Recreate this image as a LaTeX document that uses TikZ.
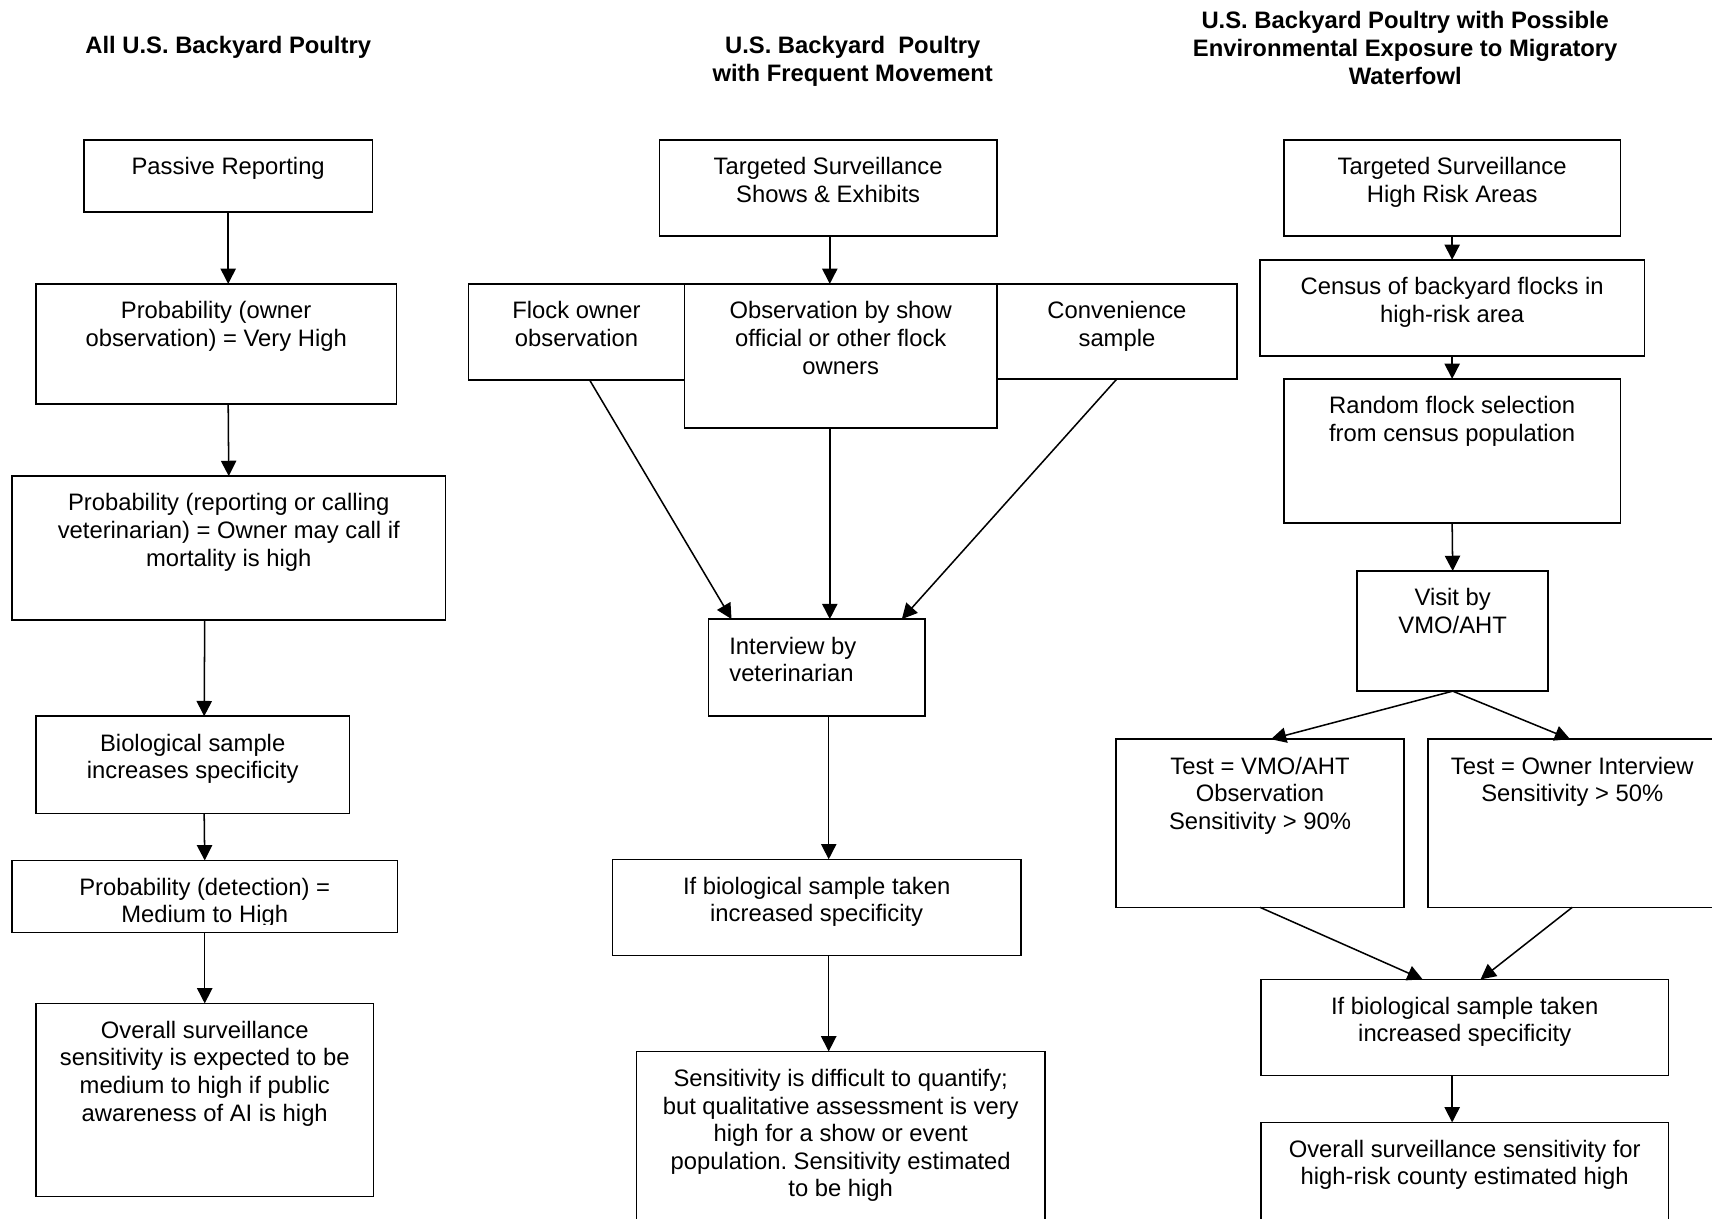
\documentclass[tikz,border=0pt]{standalone}
\usepackage{fontspec}
\setmainfont{Liberation Sans}
\usetikzlibrary{arrows.meta,calc}
\frenchspacing
\newcommand\cbox[3]{\parbox[t][#2][t]{#1}{\centering\rule{0pt}{32pt}#3}}
\newcommand\lbox[4]{\parbox[t][#2][t]{#1}{\raggedright\leftskip=#3\rule{0pt}{32pt}#4}}
\newcommand\tbox[2]{\parbox[t]{#1}{\centering\bfseries #2}}
\begin{document}
\begin{tikzpicture}[x=1pt,y=-1pt,
  box/.style={draw,line width=1.4pt,inner sep=0pt,outer sep=0pt,anchor=north west,font=\fontsize{21.8}{25.3}\selectfont},
  ttl/.style={inner sep=0pt,anchor=base,font=\fontsize{21.8}{25.5}\selectfont},
  arr/.style={line width=1.4pt,-{Triangle[length=14pt,width=14pt]}}]
\useasboundingbox (0,0) rectangle (1568,1116);
\clip (0,0) rectangle (1568,1116);
\fill[white] (0,0) rectangle (1568,1116);

% titles
\node[ttl] (t1) at (209,49) {\tbox{400pt}{All U.S. Backyard Poultry}};
\node[ttl] (t2) at (781,49) {\tbox{400pt}{U.S. Backyard~ Poultry\\with Frequent Movement}};
\node[ttl] (t3) at (1287,26) {\tbox{500pt}{U.S. Backyard Poultry with Possible\\Environmental Exposure to Migratory\\Waterfowl}};

% left column
\node[box] (b1) at (77,128) {\cbox{264pt}{66pt}{Passive Reporting}};
\node[box] (b2) at (33,260) {\cbox{330pt}{110pt}{Probability (owner\\observation) = Very High}};
\node[box] (b3) at (11,436) {\cbox{397pt}{132pt}{Probability (reporting or calling\\veterinarian) = Owner may call if\\mortality is high}};
\node[box] (b4) at (33,656) {\cbox{287pt}{89pt}{Biological sample\\increases specificity}};
\node[box] (b5) at (11,788) {\cbox{353pt}{66pt}{Probability (detection) =\\Medium to High}};
\fill[white] (12.5,847) rectangle (362.5,853);
\node[box] (b6) at (33,919) {\cbox{309pt}{177pt}{Overall surveillance\\sensitivity is expected to be\\medium to high if public\\awareness of AI is high}};

% middle column
\node[box] (b7) at (604,128) {\cbox{309pt}{88pt}{Targeted Surveillance\\Shows \& Exhibits}};
\node[box] (b8) at (429,260) {\cbox{198pt}{88pt}{Flock owner\\observation}};
\node[box] (b10) at (913,260) {\cbox{220pt}{87pt}{Convenience\\sample}};
\node[box] (b9) at (627,260) {\cbox{286pt}{132pt}{Observation by show\\official or other flock\\owners}};
\node[box] (b11) at (649,567) {\lbox{198pt}{89pt}{19pt}{Interview by\\veterinarian}};
\node[box] (b12) at (561,787) {\cbox{374pt}{88pt}{If biological sample taken\\increased specificity}};
\node[box] (b13) at (583,963) {\cbox{374pt}{170pt}{Sensitivity is difficult to quantify;\\but qualitative assessment is very\\high for a show or event\\population. Sensitivity estimated\\to be high}};

% right column
\node[box] (b14) at (1176,128) {\cbox{308pt}{88pt}{Targeted Surveillance\\High Risk Areas}};
\node[box] (b15) at (1154,238) {\cbox{352pt}{88pt}{Census of backyard flocks in\\high-risk area}};
\node[box] (b16) at (1176,347) {\cbox{308pt}{132pt}{Random flock selection\\from census population}};
\node[box] (b17) at (1243,523) {\cbox{175pt}{110pt}{Visit by\\VMO/AHT}};
\node[box] (b18) at (1022,677) {\cbox{264pt}{154pt}{Test = VMO/AHT\\Observation\\Sensitivity > 90\%}};
\node[box] (b19) at (1308,677) {\cbox{264pt}{154pt}{Test = Owner Interview\\Sensitivity > 50\%}};
\node[box] (b20) at (1155,897) {\cbox{373pt}{88pt}{If biological sample taken\\increased specificity}};
\node[box] (b21) at (1155,1028) {\cbox{373pt}{105pt}{Overall surveillance sensitivity for\\high-risk county estimated high}};

% left connectors
\draw[arr] (b1.south) -- ($(b2.north)+(11,0)$);
\draw[arr] ($(b2.south)+(11,0)$) -- (b3.north);
\draw[arr] ($(b3.south)+(-22,0)$) -- ($(b4.north)+(10.5,0)$);
\draw[arr] ($(b4.south)+(10.5,0)$) -- (b5.north);
\draw[arr] (b5.south) -- (b6.north);

% middle connectors
\draw[arr] ($(b7.south)+(1.5,0)$) -- ($(b9.north)+(-10,0)$);
\draw[arr] ($(b8.south)+(12,0)$) -- ($(b11.north west)+(21,0)$);
\draw[arr] ($(b9.south)+(-10,0)$) -- ($(b11.north)+(12,0)$);
\draw[arr] (b10.south) -- ($(b11.north east)+(-21,0)$);
\draw[arr] ($(b11.south)+(11,0)$) -- ($(b12.north)+(11,0)$);
\draw[arr] ($(b12.south)+(11,0)$) -- ($(b13.north)+(-11,0)$);

% right connectors
\draw[arr] (b14.south) -- (b15.north);
\draw[arr] (b15.south) -- (b16.north);
\draw[arr] (b16.south) -- (b17.north);
\draw[arr] (b17.south) -- ($(b18.north)+(10,0)$);
\draw[arr] (b17.south) -- ($(b19.north west)+(130,0)$);
\draw[arr] (b18.south) -- ($(b20.north west)+(148,0)$);
\draw[arr] ($(b19.south west)+(132,0)$) -- ($(b20.north west)+(201,0)$);
\draw[arr] ($(b20.south)+(-11.5,0)$) -- ($(b21.north)+(-11.5,0)$);
\end{tikzpicture}
\end{document}
